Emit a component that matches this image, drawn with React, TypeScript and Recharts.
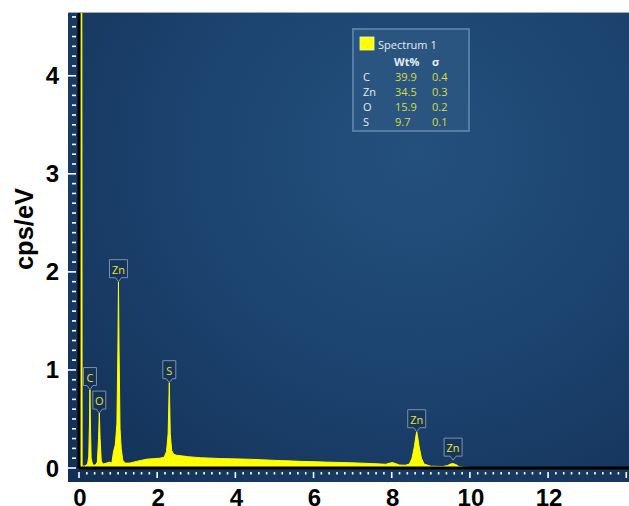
import React from 'react';
import {
  Area,
  ComposedChart,
  Legend,
  ReferenceDot,
  XAxis,
  YAxis,
} from 'recharts';

// spectrum: energy (keV) and counts (cps/eV)
const energy = [
  0, 0.04, 0.05, 0.07, 0.08, 0.15, 0.22, 0.25, 0.27, 0.28, 0.29, 0.31, 0.35,
  0.42, 0.47, 0.5, 0.52, 0.54, 0.57, 0.62, 0.7, 0.78, 0.84, 0.88, 0.93, 0.97,
  0.995, 1.01, 1.025, 1.05, 1.08, 1.12, 1.18, 1.3, 1.5, 1.73, 1.9, 2.07, 2.18,
  2.24, 2.28, 2.31, 2.335, 2.37, 2.42, 2.5, 2.8, 3.1, 3.6, 4.37, 5.0, 5.66,
  6.3, 6.93, 7.5, 7.85, 7.95, 8.02, 8.1, 8.2, 8.35, 8.45, 8.52, 8.58, 8.62,
  8.64, 8.66, 8.7, 8.76, 8.83, 9.0, 9.3, 9.43, 9.5, 9.57, 9.64, 9.72, 9.85,
  10.0, 11.0, 12.5, 14.07,
];
const counts = [
  0, 0, 6, 6, 0.02, 0.02, 0.04, 0.12, 0.5, 0.8, 0.5, 0.1, 0.03,
  0.03, 0.06, 0.3, 0.56, 0.3, 0.07, 0.04, 0.05, 0.06, 0.05, 0.16, 0.24, 0.45,
  1.2, 1.9, 1.2, 0.4, 0.2, 0.08, 0.05, 0.05, 0.07, 0.09, 0.095, 0.1, 0.11,
  0.17, 0.35, 0.87, 0.35, 0.18, 0.14, 0.13, 0.115, 0.105, 0.097, 0.089, 0.078, 0.068,
  0.06, 0.054, 0.045, 0.038, 0.05, 0.055, 0.045, 0.03, 0.028, 0.04, 0.1, 0.22, 0.33,
  0.37, 0.33, 0.22, 0.1, 0.04, 0.018, 0.015, 0.025, 0.04, 0.045, 0.035, 0.015, 0.008,
  0.005, 0.004, 0.003, 0.003,
];

// peak tags
const peakNames = ['C', 'O', 'Zn', 'S', 'Zn', 'Zn'];
const peakEnergy = [0.28, 0.52, 1.01, 2.31, 8.64, 9.57];
const peakTip = [0.8, 0.56, 1.9, 0.87, 0.37, 0.08];

// quantification table
const tableElements = ['C', 'Zn', 'O', 'S'];
const tableWt = ['39.9', '34.5', '15.9', '9.7'];
const tableSigma = ['0.4', '0.3', '0.2', '0.1'];

const xLabels = [0, 2, 4, 6, 8, 10, 12];
const yLabels = [0, 1, 2, 3, 4];
const xTicks = Array.from({length: 71}, (_, i) => (i * 2) / 10);
const yTicks = Array.from({length: 47}, (_, i) => i / 10);

const data = energy.map((e, i) => ({e, cps: counts[i]}));

const axisFont = '"Liberation Sans", Arial, sans-serif';
const panelFont = '"Open Sans", "Noto Sans", sans-serif';

const XTick = (props: any) => {
  const {x, y, payload} = props;
  const tenth = Math.round(payload.value * 10);
  const major = tenth % 20 === 0;
  const label = tenth / 10;
  return (
    <g>
      <line
        x1={x}
        x2={x}
        y1={y + 4}
        y2={y + (major ? 10 : 6.5)}
        stroke="#fff"
        strokeWidth={1.6}
      />
      {major && xLabels.includes(label) && (
        <text
          x={x + 1}
          y={y + 29}
          textAnchor="middle"
          dominantBaseline="central"
          fontFamily={axisFont}
          fontWeight="bold"
          fontSize={24}
          fill="#000"
        >
          {label}
        </text>
      )}
    </g>
  );
};

const YTick = (props: any) => {
  const {x, y, payload} = props;
  const tenth = Math.round(payload.value * 10);
  const major = tenth % 10 === 0;
  const label = tenth / 10;
  return (
    <g>
      <line
        x1={x - (major ? 11 : 7)}
        x2={x - 3}
        y1={y}
        y2={y}
        stroke="#fff"
        strokeWidth={1.6}
      />
      {major && yLabels.includes(label) && (
        <text
          x={x - 20}
          y={y}
          textAnchor="end"
          dominantBaseline="central"
          fontFamily={axisFont}
          fontWeight="bold"
          fontSize={24}
          fill="#000"
        >
          {label}
        </text>
      )}
    </g>
  );
};

const YTitle = (props: any) => {
  const vb = props.viewBox || {x: 0, y: 13};
  const cx = vb.x + 23.5;
  const cy = vb.y + 216;
  return (
    <text
      x={cx}
      y={cy}
      transform={`rotate(-90 ${cx} ${cy})`}
      textAnchor="middle"
      dominantBaseline="central"
      fontFamily={axisFont}
      fontWeight="bold"
      fontSize={25.5}
      fill="#000"
    >
      cps/eV
    </text>
  );
};

const PeakTag = ({cx, cy, name}: any) => {
  const w = name.length > 1 ? 18 : 13;
  const h = 18;
  const bottom = cy - 4;
  const top = bottom - h;
  const left = cx - w / 2;
  const right = cx + w / 2;
  const d = `M${left},${top} H${right} V${bottom} H${cx + 3} L${cx},${cy} L${cx - 3},${bottom} H${left} Z`;
  return (
    <g>
      <path d={d} fill="rgba(22,48,80,0.55)" stroke="#7d92aa" strokeWidth={1} />
      <text
        x={cx}
        y={top + h / 2 + 0.5}
        textAnchor="middle"
        dominantBaseline="central"
        fontFamily={panelFont}
        fontSize={11}
        fill="#e8e43a"
      >
        {name}
      </text>
    </g>
  );
};

const ResultsPanel = () => (
  <svg width={118} height={104} style={{display: 'block'}}>
    <rect x={1} y={1} width={116} height={102} fill="#2a5580" stroke="#557ca2" strokeWidth={2} />
    <rect x={8} y={9} width={14} height={13} fill="#ffff00" stroke="#f4f4c0" strokeWidth={0.8} />
    <text x={26} y={16} dominantBaseline="central" fontFamily={panelFont} fontSize={11} fill="#e6ecf2">
      Spectrum 1
    </text>
    <text x={42} y={33.5} dominantBaseline="central" fontFamily={panelFont} fontSize={11} fontWeight="bold" fill="#e6ecf2">
      Wt%
    </text>
    <text x={80} y={33.5} dominantBaseline="central" fontFamily={panelFont} fontSize={11} fontWeight="bold" fill="#e6ecf2">
      σ
    </text>
    {tableElements.map((el, i) => (
      <g key={el}>
        <text x={11} y={48 + i * 15} dominantBaseline="central" fontFamily={panelFont} fontSize={11} fill="#e6ecf2">
          {el}
        </text>
        <text x={43} y={48 + i * 15} dominantBaseline="central" fontFamily={panelFont} fontSize={11} fill="#d9dc3c">
          {tableWt[i]}
        </text>
        <text x={80} y={48 + i * 15} dominantBaseline="central" fontFamily={panelFont} fontSize={11} fill="#d9dc3c">
          {tableSigma[i]}
        </text>
      </g>
    ))}
  </svg>
);

const App = () => {
  return (
    <div style={{position: 'absolute', left: 0, top: 0, width: 629, height: 506, background: '#fff'}}>
      <div
        style={{
          position: 'absolute',
          left: 68,
          top: 12,
          width: 561,
          height: 469,
          borderTop: '1px solid #9eabb9',
          background:
            'radial-gradient(ellipse at 62% 30%, #24507d 0%, #1c4470 45%, #132f55 100%)',
        }}
      />
      <div style={{position: 'absolute', left: 0, top: 0}}>
        <ComposedChart
          width={629}
          height={506}
          data={data}
          margin={{top: 13, right: 0, left: 0, bottom: 0}}
        >
          <XAxis
            type="number"
            dataKey="e"
            domain={[0, 14.07]}
            allowDataOverflow
            ticks={xTicks}
            interval={0}
            tick={<XTick />}
            tickLine={false}
            tickSize={0}
            tickMargin={0}
            height={38}
            axisLine={{stroke: '#000', strokeWidth: 3}}
          />
          <YAxis
            type="number"
            domain={[0, 4.64]}
            allowDataOverflow
            ticks={yTicks}
            interval={0}
            tick={<YTick />}
            tickLine={false}
            tickSize={0}
            tickMargin={0}
            width={79}
            axisLine={{stroke: '#000', strokeWidth: 3}}
            label={<YTitle />}
          />
          <Legend
            layout="horizontal"
            verticalAlign="middle"
            align="center"
            content={() => <ResultsPanel />}
            wrapperStyle={{left: 352, top: 28, width: 118, height: 104}}
          />
          <Area
            type="linear"
            dataKey="cps"
            stroke="#ffff00"
            strokeWidth={1}
            fill="#ffff00"
            fillOpacity={1}
            isAnimationActive={false}
            dot={false}
            activeDot={false}
          />
          {peakNames.map((name, i) => (
            <ReferenceDot
              key={`${name}-${i}`}
              x={peakEnergy[i]}
              y={peakTip[i]}
              r={0}
              ifOverflow="visible"
              shape={(p: any) => <PeakTag cx={p.cx} cy={p.cy} name={name} />}
            />
          ))}
        </ComposedChart>
      </div>
    </div>
  );
};

export default App;
